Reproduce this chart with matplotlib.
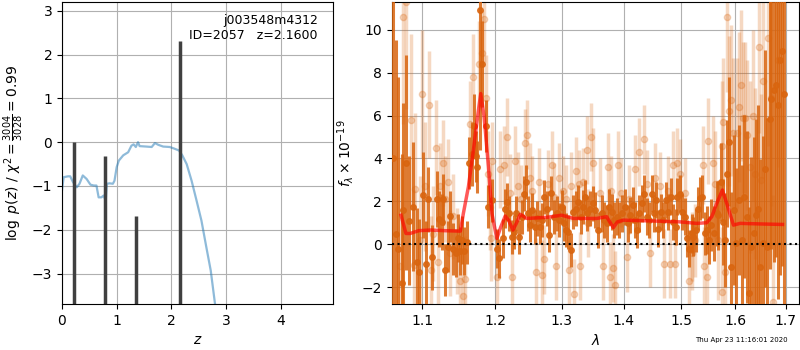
import numpy as np
import matplotlib
matplotlib.use("Agg")
import matplotlib.pyplot as plt
from matplotlib.ticker import FixedLocator, FixedFormatter, NullLocator

# --- p(z) panel ---
z_grid = [0.0, 0.03, 0.11, 0.15, 0.20, 0.27, 0.32, 0.38, 0.45, 0.52, 0.58, 0.63,
          0.67, 0.72, 0.76, 0.80, 0.82, 0.87, 0.93, 0.96, 1.00, 1.04, 1.12, 1.21,
          1.27, 1.31, 1.35, 1.39, 1.42, 1.54, 1.64, 1.70, 1.76, 1.85, 1.97, 2.06,
          2.14, 2.20, 2.28, 2.37, 2.46, 2.55, 2.64, 2.72, 2.80, 2.85]
logpz = [-1.10, -0.80, -0.78, -0.78, -0.91, -1.03, -0.95, -0.76, -0.84, -0.97, -0.99, -0.99,
         -1.26, -1.26, -1.22, -1.33, -0.95, -0.94, -0.95, -0.88, -0.57, -0.42, -0.30, -0.23,
         -0.08, -0.05, -0.11, 0.00, -0.09, -0.10, -0.11, -0.02, -0.06, -0.10, -0.11, -0.15,
         -0.19, -0.30, -0.50, -0.88, -1.33, -1.79, -2.40, -2.93, -3.71, -4.50]
z_peaks = [0.22, 0.78, 1.35, 2.15]
peak_vals = [0.00, -0.31, -1.69, 2.31]

# --- spectrum panel: darker points ---
wave1 = [1.0625, 1.0655, 1.0687, 1.0730, 1.0752, 1.0786, 1.0829, 1.0881, 1.0925, 1.0960,
         1.1013, 1.1044, 1.1079, 1.1124, 1.1191, 1.1227, 1.1267, 1.1281, 1.1303, 1.1348,
         1.1371, 1.1416, 1.1453, 1.1476, 1.1508, 1.1531, 1.1563, 1.1600, 1.1637, 1.1670,
         1.1703, 1.1731, 1.1749, 1.1787, 1.1815, 1.1872, 1.1900,
         1.1952, 1.2036, 1.2065, 1.2113, 1.2147, 1.2181, 1.2210, 1.2245, 1.2279, 1.2308,
         1.2358, 1.2392, 1.2427, 1.2457, 1.2482, 1.2517, 1.2552, 1.2589, 1.2625, 1.2665,
         1.2691, 1.2726, 1.2767, 1.2808, 1.2839, 1.2880, 1.2921, 1.2957, 1.2999, 1.3036,
         1.3067, 1.3103, 1.3145, 1.3182, 1.3224, 1.3261, 1.3298, 1.3330, 1.3367, 1.3404,
         1.3447, 1.3490,
         1.3528, 1.3582, 1.3637, 1.3675, 1.3719, 1.3763, 1.3807, 1.3840, 1.3884, 1.3929,
         1.3968, 1.4024, 1.4069, 1.4108, 1.4154, 1.4193, 1.4222, 1.4267, 1.4307, 1.4347,
         1.4393, 1.4439, 1.4480, 1.4520, 1.4555, 1.4596, 1.4643, 1.4684, 1.4731, 1.4772,
         1.4819, 1.4861, 1.4903, 1.4933, 1.4981, 1.5023, 1.5065, 1.5101, 1.5137, 1.5192,
         1.5216, 1.5265, 1.5308, 1.5351, 1.5388, 1.5431, 1.5474, 1.5511, 1.5555, 1.5598,
         1.5649, 1.5680, 1.5730, 1.5774, 1.5805, 1.5850, 1.5888, 1.5932, 1.5977, 1.6028,
         1.6080, 1.6125, 1.6170, 1.6222, 1.6274, 1.6319, 1.6365, 1.6417, 1.6450, 1.6496,
         1.6536, 1.6582, 1.6628, 1.6681, 1.6715, 1.6762, 1.6802, 1.6849, 1.6883, 1.6920,
         1.6960]
flux1 = [4.0, 0.5, -0.2, -1.8, 1.6, 3.8, 1.1, 1.75, -0.8, -1.3,
         2.3, -0.9, 2.1, -0.6, 2.1, 1.2, 1.05, 2.1, -1.2, -0.1,
         1.3, -0.2, -0.4, 0.3, -0.3, 0.2, -0.3, 0.1, 3.8, 4.2,
         5.5, 4.1, 3.6, 10.9, 8.4, 5.5, 1.75,
         2.06, -0.2, -0.65, 0.28, 1.67, 1.98, 1.44, 0.36, 0.59, 1.44,
         0.36, 1.29, 2.37, 2.91, 1.44, 0.90, 1.60, 0.82, 1.21, 0.82,
         1.13, 2.22, 1.67, 0.43, 2.40, 1.29, 1.44, 1.13, 1.75, 0.98,
         0.67, 0.59, -0.26, 1.52, 1.67, 1.98, 1.29, 1.75, 2.22, 1.44,
         1.67, 1.91,
         1.60, 0.67, 1.44, 1.13, 0.98, 1.75, 1.52, 1.13, 1.29, 1.13,
         1.44, 1.75, 0.98, 1.36, 1.83, 1.13, 0.67, 1.44, 1.91, 2.37,
         1.29, 1.13, 2.37, 1.44, 2.06, 0.74, 1.52, 1.13, 2.06, 1.52,
         2.22, 1.05, 0.82, 2.22, 2.37, 1.52, 1.29, 0.28, -0.19, 0.51,
         0.36, 0.67, 1.67, 2.14, 2.22, 0.51, 0.67, 0.20, 0.90, 0.51,
         1.44, 1.36, 2.91, 1.05, 0.20, 3.30, 4.78, -1.04, 1.60, 0.05,
         2.06, 0.20, 2.22, 1.29, -2.28, -0.11, 0.51, 1.36, 1.67, -1.04,
         0.05, 3.53, -0.11, 5.86, 6.79, 7.18, 7.41, 6.48, 8.57, 9.0,
         7.0]
err1 = [10, 9, 8, 6, 5, 5, 3, 3, 2.5, 2.5,
        2, 2, 1.5, 1.5, 1.3, 1.3, 1.3, 1.2, 1.2, 1.2,
        1.2, 1.2, 1.1, 1.1, 1.1, 1.1, 1.1, 1.0, 1.2, 1.5,
        1.5, 1.2, 1.2, 6.5, 2.0, 1.2, 1.0,
        1.0, 0.9, 0.9, 0.9, 0.9, 0.9, 0.8, 0.8, 0.8, 0.8,
        0.8, 0.8, 0.8, 0.8, 0.8, 0.8, 0.8, 0.8, 0.8, 0.8,
        0.8, 0.8, 0.8, 0.8, 0.8, 0.8, 0.8, 0.8, 0.8, 0.8,
        0.8, 0.8, 0.8, 0.8, 0.8, 0.8, 0.8, 0.8, 0.8, 0.8,
        0.8, 0.8,
        0.85, 0.85, 0.85, 0.85, 0.85, 0.85, 0.85, 0.85, 0.85, 0.85,
        0.85, 0.85, 0.85, 0.85, 0.85, 0.85, 0.85, 0.85, 0.85, 0.85,
        0.85, 0.85, 0.85, 0.85, 0.85, 0.85, 0.85, 0.85, 0.85, 0.85,
        0.85, 0.85, 0.85, 0.85, 0.85, 0.85, 0.85, 0.85, 0.85, 0.9,
        0.9, 1.0, 1.0, 1.0, 1.0, 1.0, 1.1, 1.1, 1.2, 1.3,
        1.5, 1.6, 1.8, 2.0, 2.2, 2.5, 3.0, 3.5, 3.5, 3.5,
        3.5, 3.5, 3.8, 4.0, 4.0, 4.2, 4.5, 4.5, 4.8, 5.0,
        5.0, 5.5, 6.0, 7.0, 7.0, 8.0, 8.0, 9.0, 10.0, 10.0,
        10.0]

# --- spectrum panel: faint points ---
wave2 = [1.0708, 1.0752, 1.0786, 1.0846, 1.0890, 1.0903, 1.0970, 1.1000, 1.1035, 1.1093,
         1.1110, 1.1147, 1.1183, 1.1213, 1.1237, 1.1273, 1.1303, 1.1348, 1.1371, 1.1416,
         1.1462, 1.1508, 1.1545, 1.1577, 1.1646, 1.1693, 1.1778, 1.1811, 1.1844, 1.1872,
         1.1906, 1.1930, 1.1944,
         1.1952, 1.2024, 1.2072, 1.2130, 1.2178, 1.2216, 1.2245, 1.2288, 1.2337, 1.2386,
         1.2434, 1.2468, 1.2508, 1.2547, 1.2606, 1.2646, 1.2696, 1.2731, 1.2781, 1.2846,
         1.2881, 1.2917, 1.2957, 1.3018, 1.3069, 1.3110, 1.3151, 1.3197, 1.3223, 1.3264,
         1.3290, 1.3332, 1.3394, 1.3420, 1.3462,
         1.3502, 1.3610, 1.3665, 1.3747, 1.3775, 1.3786, 1.3830, 1.3858, 1.3913, 1.3952,
         1.4053, 1.4098, 1.4194, 1.4268, 1.4348, 1.4394, 1.4452, 1.4544, 1.4626, 1.4697,
         1.4773, 1.4803, 1.4862, 1.4892, 1.4934, 1.4982, 1.5072, 1.5133, 1.5194,
         1.5189, 1.5250, 1.5391, 1.5416, 1.5465, 1.5496, 1.5577, 1.5620, 1.5683, 1.5746,
         1.5758, 1.5777, 1.5809, 1.5853, 1.5891, 1.5916, 1.5967, 1.6031, 1.6083, 1.6108,
         1.6160, 1.6192, 1.6237, 1.6289, 1.6341, 1.6387, 1.6472, 1.6499, 1.6538, 1.6651,
         1.6698, 1.6738, 1.6852]
flux2 = [-1.0, 10.6, 11.3, 5.8, -0.96, 2.6, 0.2, 7.0, 2.7, 6.5,
         -1.2, 0.5, 4.5, -0.8, 2.7, 3.8, 2.1, 2.9, -0.4, 1.3,
         -0.3, -1.7, -2.4, -1.6, 5.6, 7.8, 8.4, 8.9, 10.5, 6.8,
         3.3, 1.75, 0.3,
         3.9, -1.5, 3.5, 3.7, 5.0, 2.4, -1.5, 3.9, 2.7, 2.1,
         4.7, 5.1, 3.1, 2.5, -1.3, 2.9, -1.4, -0.7, 2.8, 3.7,
         2.2, -1.0, 3.1, 2.5, 2.1, -1.2, 2.7, -2.3, 3.4, 2.8,
         -1.0, 2.9, 4.4, 1.0, 5.0,
         3.8, 2.4, -1.0, 3.6, -1.5, 2.5, -1.1, -1.9, 3.7, 2.4,
         -0.6, 2.1, 3.5, 4.3, 4.9, 2.8, -0.4, 3.1, 2.7, -0.9,
         2.5, -0.9, 3.7, -0.9, 3.8, 3.3, 2.4, -1.7, -0.1,
         -0.4, 0.2, 3.7, -1.0, -1.5, 4.8, 3.8, 2.8, 0.2, 4.6,
         -2.2, 5.7, -1.3, 10.6, 6.2, 6.7, 5.2, 5.2, 6.4, 7.4,
         5.9, 5.9, 5.1, 3.6, 6.0, 3.3, 9.2, 3.0, 7.6, 9.6,
         6.8, -2.7, 8.6]
err2 = [5, 5, 5, 4, 3.5, 3.5, 3, 3, 3, 2.5,
        2.5, 2.2, 2.2, 2, 2, 2, 2, 2, 2, 2,
        2, 2, 2, 2, 2, 2, 2, 2, 2, 2,
        2, 2, 2,
        1.8, 1.8, 1.8, 1.8, 1.8, 1.8, 1.6, 1.6, 1.6, 1.6,
        1.6, 1.6, 1.6, 1.6, 1.6, 1.6, 1.6, 1.6, 1.6, 1.6,
        1.6, 1.6, 1.6, 1.6, 1.6, 1.6, 1.6, 1.6, 1.6, 1.6,
        1.6, 1.6, 1.6, 1.6, 1.6,
        1.6, 1.6, 1.6, 1.6, 1.6, 1.6, 1.6, 1.6, 1.6, 1.6,
        1.6, 1.6, 1.6, 1.6, 1.6, 1.6, 1.6, 1.6, 1.6, 1.6,
        1.6, 1.6, 1.6, 1.6, 1.6, 1.6, 1.6, 1.6, 1.6,
        1.7, 1.7, 1.8, 1.8, 1.9, 2.0, 2.2, 2.5, 2.8, 3.0,
        3.0, 3.0, 3.0, 3.5, 3.5, 3.5, 3.5, 3.5, 3.5, 3.5,
        3.5, 3.5, 3.5, 4.0, 4.0, 4.0, 4.0, 4.0, 4.5, 5.0,
        5.0, 5.0, 5.0]

# --- best-fit model ---
model_wave = [1.0722, 1.0786, 1.0840, 1.0952, 1.1110, 1.1298, 1.1513, 1.1554, 1.1624, 1.1694,
              1.1765, 1.1797, 1.1845, 1.1907, 1.1956, 1.2027, 1.2085, 1.2148, 1.2197, 1.2261,
              1.2311, 1.2370, 1.2465, 1.2766, 1.3000, 1.3181, 1.3555, 1.3718, 1.3829, 1.3896,
              1.4000, 1.4393, 1.4980, 1.5282, 1.5467, 1.5560, 1.5653, 1.5760, 1.5842, 1.5970,
              1.6098, 1.6555, 1.6937]
model_flux = [1.36, 0.51, 0.51, 0.64, 0.67, 0.64, 0.62, 1.44, 2.68, 4.39,
              6.25, 7.02, 5.94, 3.61, 1.44, 0.28, 0.82, 1.32, 1.13, 0.67,
              0.98, 1.40, 1.21, 1.26, 1.36, 1.21, 1.21, 1.29, 0.78, 1.05,
              1.13, 1.10, 1.05, 0.98, 1.01, 1.29, 1.91, 2.53, 1.91, 0.90,
              0.98, 0.95, 0.93]

orange = "#d9650f"

fig = plt.figure(figsize=(8, 3.5), dpi=100)

ax1 = fig.add_axes([0.0775, 0.131, 0.339, 0.863])
ax1.plot(z_grid, logpz, color="#1f77b4", alpha=0.5, lw=1.6)
ax1.vlines(z_peaks, -3.7, peak_vals, color="0.25", lw=2.5)
ax1.set_xlim(0, 4.96)
ax1.set_ylim(-3.7, 3.2)
ax1.set_xticks([0, 1, 2, 3, 4])
ax1.set_yticks([-3, -2, -1, 0, 1, 2, 3])
ax1.grid()
ax1.set_xlabel(r"$z$")
ax1.set_ylabel(r"$\log\ p(z)$ / $\chi^2=\frac{3004}{3028}=0.99$")
ax1.text(0.943, 0.962, "j003548m4312\nID=2057   z=2.1600", transform=ax1.transAxes,
         ha="right", va="top", fontsize=9)

ax2 = fig.add_axes([0.4896, 0.131, 0.5095, 0.863])
ax2.errorbar(wave2, flux2, yerr=err2, marker="o", ms=4.5, ls="none", color=orange,
             alpha=0.25, elinewidth=2.5, zorder=2)
ax2.errorbar(wave1, flux1, yerr=err1, marker="o", ms=4, ls="none", color=orange,
             alpha=0.85, elinewidth=2.2, zorder=3)
ax2.plot(model_wave, model_flux, color="red", alpha=0.65, lw=2.5, zorder=4)
ax2.axhline(0, color="k", ls=":", lw=1.5, zorder=5)
ax2.set_xscale("log")
ax2.set_xlim(1.0603, 1.7281)
ax2.set_ylim(-2.78, 11.28)
xt = [1.1, 1.2, 1.3, 1.4, 1.5, 1.6, 1.7]
ax2.xaxis.set_major_locator(FixedLocator(xt))
ax2.xaxis.set_major_formatter(FixedFormatter([str(v) for v in xt]))
ax2.xaxis.set_minor_locator(NullLocator())
ax2.set_yticks([-2, 0, 2, 4, 6, 8, 10])
ax2.grid()
ax2.set_xlabel(r"$\lambda$")
ax2.set_ylabel(r"$f_\lambda\times10^{-19}$")

fig.text(0.984, 0.028, "Thu Apr 23 11:16:01 2020", ha="right", va="center", fontsize=5)

fig.savefig("out.png", dpi=100)
